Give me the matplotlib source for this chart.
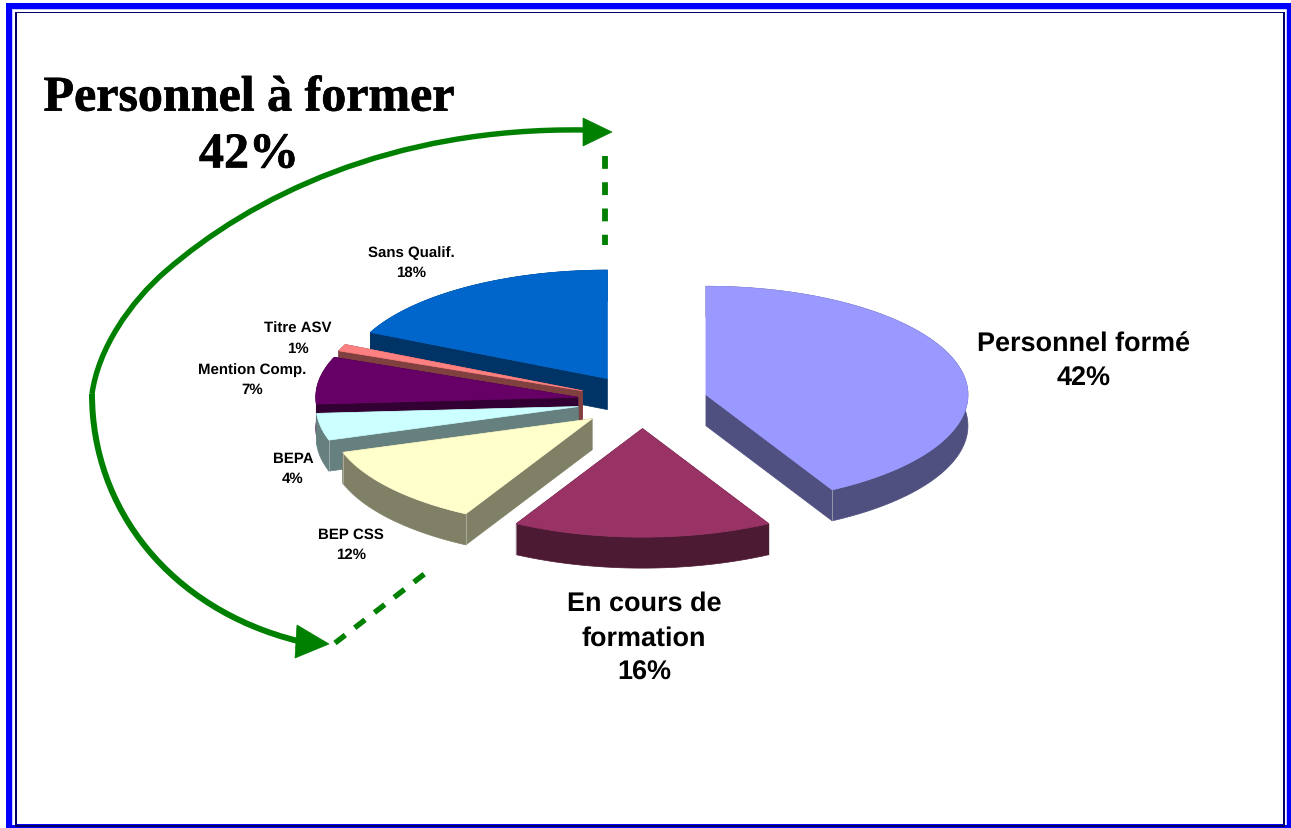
"""Exploded 3D-look pie of staff training levels, with a framed page."""

import matplotlib

matplotlib.use("Agg")

import matplotlib.patheffects as pe
import matplotlib.pyplot as plt
import numpy as np
from matplotlib.patches import Path, PathPatch, Polygon, Rectangle

# data, clockwise from 12 o'clock
labels = [
    "Personnel formé",
    "En cours de\nformation",
    "BEP CSS",
    "BEPA",
    "Mention Comp.",
    "Titre ASV",
    "Sans Qualif.",
]
shares = [42, 16, 12, 4, 7, 1, 18]
title_text = "Personnel à former"
title_share = 42

# style
top_colors = ["#9999FF", "#993366", "#FFFFCC", "#CCFFFF", "#660066", "#FF8080", "#0066CC"]
side_colors = ["#4F4F80", "#4D1A33", "#808066", "#668080", "#330033", "#804040", "#003366"]
label_pos = [(1084, 362), (644, 638.5), (351, 545), (293, 469), (252, 380), (298, 339), (411, 263)]
label_size = [19.45, 19.45, 10.7, 10.7, 10.7, 10.7, 10.7]
label_spacing = [1.47, 1.47, 1.55, 1.55, 1.55, 1.55, 1.55]

CX, CY = 642.5, 402.5
RX, RY = 262, 108.5
THICK = 31
EXPLODE = 0.25
GREEN = "#008000"

plt.rcParams["text.hinting"] = "no_hinting"
plt.rcParams["text.hinting_factor"] = 1


def slice_arc(start, end, ax_x, ax_y):
    t = np.radians(np.linspace(start, end, max(int(end - start) * 2, 4)))
    return np.column_stack([ax_x + RX * np.sin(t), ax_y - RY * np.cos(t)])


def draw_slice(ax, start, end, top, side):
    mid = np.radians((start + end) / 2)
    x0 = CX + EXPLODE * RX * np.sin(mid)
    y0 = CY - EXPLODE * RY * np.cos(mid)
    arc = slice_arc(start, end, x0, y0)
    apex = np.array([[x0, y0]])
    drop = np.array([0, THICK])

    # walls: the two radial edges and the outer rim, each pushed down
    rim = np.vstack([arc, (arc + drop)[::-1]])
    ax.add_patch(Polygon(rim, closed=True, fc=side, ec=side, lw=0.5))
    for angle, corner in ((start, arc[0]), (end, arc[-1])):
        # an edge pointing straight back is seen end on, no wall to show
        if angle % 360 == 0:
            continue
        wall = np.vstack([apex, [corner], [corner + drop], apex + drop])
        ax.add_patch(Polygon(wall, closed=True, fc=side, ec=side, lw=0.5))

    # light seam where a visible wall meets the rim on the near side
    for angle, corner in ((start, arc[0]), (end, arc[-1])):
        if 100 < angle < 262:
            ax.plot([corner[0]] * 2, [corner[1], corner[1] + THICK], color="#C8C8C8", lw=0.4)

    ax.add_patch(Polygon(np.vstack([apex, arc]), closed=True, fc=top, ec=top, lw=0.5))


def draw_frame(ax):
    layers = [
        ((6, 3.5, 1300, 840), "#0000FF"),
        ((12, 9.5, 1275, 816.5), "#C8C8FF"),
        ((13, 11, 1273, 815), "#FFFFFF"),
        ((15, 12.5, 1270, 815.5), "#000066"),
        ((16.5, 14, 1266.5, 812), "#FFFFFF"),
        ((16.5, 824.5, 1266.5, 1.5), "#0000FF"),
    ]
    for (x, y, w, h), color in layers:
        ax.add_patch(Rectangle((x, y), w, h, fc=color, ec="none"))


def draw_arrows(ax):
    upper = Path(
        [(92, 395), (98, 350), (130, 303), (166, 272), (250, 199), (390, 128), (585, 131)],
        [Path.MOVETO] + [Path.CURVE4] * 6,
    )
    lower = Path(
        [(92, 395), (92, 510), (170, 610), (298, 642)],
        [Path.MOVETO, Path.CURVE4, Path.CURVE4, Path.CURVE4],
    )
    ax.add_patch(PathPatch(upper, fc="none", ec=GREEN, lw=3.9))
    ax.add_patch(PathPatch(lower, fc="none", ec=GREEN, lw=4.3))
    ax.add_patch(Polygon([(583, 119), (612, 133), (583, 147)], closed=True, fc=GREEN, ec=GREEN, lw=0.5))
    ax.add_patch(Polygon([(297, 626), (329, 645), (295, 659)], closed=True, fc=GREEN, ec=GREEN, lw=0.5))
    ax.plot([605, 605], [157, 246], color=GREEN, lw=4.2, ls=(0, (2.2, 2.3)), dash_capstyle="butt")
    ax.plot([335, 427], [644, 573], color=GREEN, lw=3.9, ls=(0, (2.4, 2.2)), dash_capstyle="butt")


def main():
    fig = plt.figure(figsize=(12.91, 8.29), dpi=100)
    ax = fig.add_axes([0, 0, 1, 1])
    ax.set_xlim(0, 1291)
    ax.set_ylim(829, 0)
    ax.axis("off")

    draw_frame(ax)

    edges = np.concatenate([[0], np.cumsum(shares)]) * 3.6
    # back slices first so the nearer ones overlap them
    for i in range(len(shares) - 1, -1, -1):
        draw_slice(ax, edges[i], edges[i + 1], top_colors[i], side_colors[i])

    for name, share, pos, size, gap in zip(labels, shares, label_pos, label_size, label_spacing):
        ax.text(
            pos[0], pos[1], f"{name}\n{share}%", ha="center", va="center", ma="center",
            family="Liberation Sans", weight="bold", fontsize=size, linespacing=gap,
        )

    draw_arrows(ax)

    title = ax.text(
        249, 128, f"{title_text}\n{title_share}%", ha="center", va="center", ma="center",
        family="Liberation Serif", weight="bold", fontsize=36, linespacing=1.33,
    )
    title.set_path_effects([pe.withStroke(linewidth=0.5, foreground="black")])

    fig.savefig("out.png", dpi=100)
    plt.close(fig)


if __name__ == "__main__":
    main()
